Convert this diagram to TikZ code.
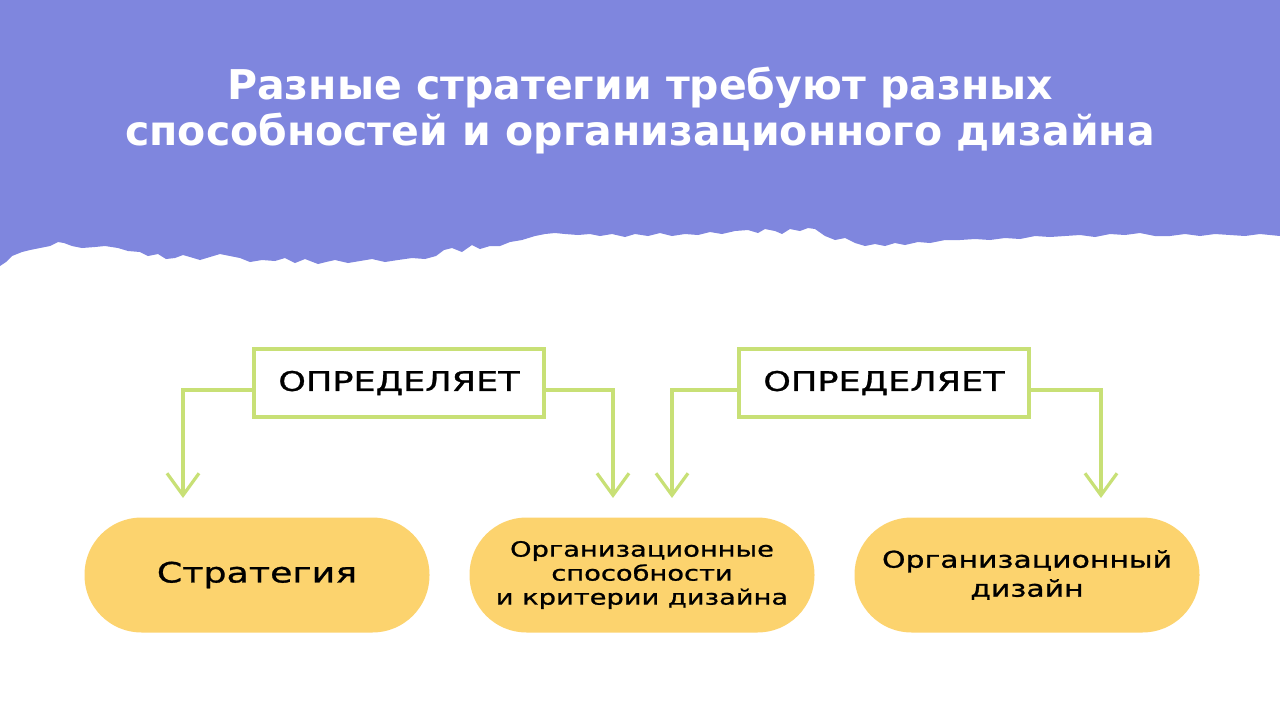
\documentclass[tikz,border=0pt]{standalone}
\usepackage{fontspec}
\setmainfont{DejaVu Sans}
\newfontfamily\titlefont{DejaVu Sans}
\newfontfamily\widefont{DejaVu Sans}[FakeStretch=1.3, FakeBold=1]
\usepackage{xcolor}
\usetikzlibrary{arrows.meta,positioning}
\definecolor{bgPurple}{HTML}{7F86DE}
\definecolor{pillYellow}{HTML}{FCD36E}
\definecolor{lineGreen}{HTML}{C8E076}

\begin{document}
\begin{tikzpicture}[x=1pt, y=-1pt,
    pill/.style={fill=pillYellow, rounded corners=57pt, minimum width=345pt, minimum height=115pt, align=center, inner sep=0pt},
    tagbox/.style={draw=lineGreen, line width=3.2pt, fill=white, minimum width=290pt, minimum height=68pt, inner sep=0pt, font=\widefont\fontsize{27}{30}\selectfont},
    link/.style={draw=lineGreen, line width=3.2pt, -{Straight Barb[length=22pt, width=32pt]}}]
    \useasboundingbox (0,0) rectangle (1280,720);
    % torn purple header
    \fill[bgPurple] (0,0) -- (0,266) -- (6,262) -- (12,256) -- (22,252) -- (30,250) -- (40,248) -- (50,246) -- (58,242) -- (64,243) -- (72,246) -- (82,248) -- (95,247) -- (105,246) -- (118,248) -- (128,251) -- (140,252) -- (148,256) -- (158,254) -- (166,259) -- (175,258) -- (183,255) -- (190,257) -- (200,260) -- (210,257) -- (220,254) -- (230,256) -- (240,258) -- (250,262) -- (262,260) -- (275,261) -- (285,258) -- (295,263) -- (305,259) -- (318,264) -- (326,262) -- (335,260) -- (348,263) -- (360,261) -- (372,259) -- (385,262) -- (398,260) -- (412,258) -- (425,259) -- (436,256) -- (444,250) -- (452,248) -- (462,252) -- (472,245) -- (480,249) -- (490,246) -- (500,246) -- (510,242) -- (522,240) -- (535,236) -- (545,234) -- (555,233) -- (565,234) -- (578,235) -- (590,234) -- (600,236) -- (612,234) -- (625,237) -- (635,234) -- (648,236) -- (660,233) -- (672,236) -- (685,234) -- (698,235) -- (710,232) -- (722,234) -- (735,231) -- (748,230) -- (758,233) -- (765,229) -- (775,231) -- (782,234) -- (790,229) -- (800,231) -- (808,228) -- (815,229) -- (825,236) -- (835,240) -- (845,238) -- (855,243) -- (865,246) -- (875,244) -- (885,246) -- (895,243) -- (905,245) -- (918,242) -- (930,243) -- (945,240) -- (960,240) -- (975,239) -- (990,240) -- (1005,238) -- (1020,239) -- (1035,236) -- (1050,237) -- (1065,236) -- (1080,235) -- (1095,237) -- (1110,234) -- (1125,235) -- (1140,233) -- (1155,236) -- (1170,236) -- (1185,234) -- (1200,236) -- (1215,234) -- (1230,235) -- (1245,236) -- (1260,234) -- (1280,236) -- (1280,0) -- cycle;
    \node[text=white, align=center, font=\titlefont\bfseries\fontsize{41}{46}\selectfont] (title) at (640,111)
        {Разные стратегии требуют разных\\ способностей и организационного дизайна};

    \node[tagbox] (def1) at (399,383) {ОПРЕДЕЛЯЕТ};
    \node[tagbox] (def2) at (884,383) {ОПРЕДЕЛЯЕТ};

    \node[pill, font=\widefont\fontsize{28}{30}\selectfont] (strat) at (257,575) {Стратегия};
    \node[pill, font=\widefont\fontsize{21}{24}\selectfont] (abil) at (642,575)
        {Организационные\\ способности\\ и критерии дизайна};
    \node[pill, font=\widefont\fontsize{23}{29}\selectfont] (design) at (1027,575)
        {Организационный\\ дизайн};

    \coordinate (t1) at (183,498);
    \coordinate (t2) at (613,498);
    \coordinate (t3) at (672,498);
    \coordinate (t4) at (1101,498);
    \draw[link] ([yshift=-7pt]def1.west) -| (t1);
    \draw[link] ([yshift=-7pt]def1.east) -| (t2);
    \draw[link] ([yshift=-7pt]def2.west) -| (t3);
    \draw[link] ([yshift=-7pt]def2.east) -| (t4);
\end{tikzpicture}
\end{document}
